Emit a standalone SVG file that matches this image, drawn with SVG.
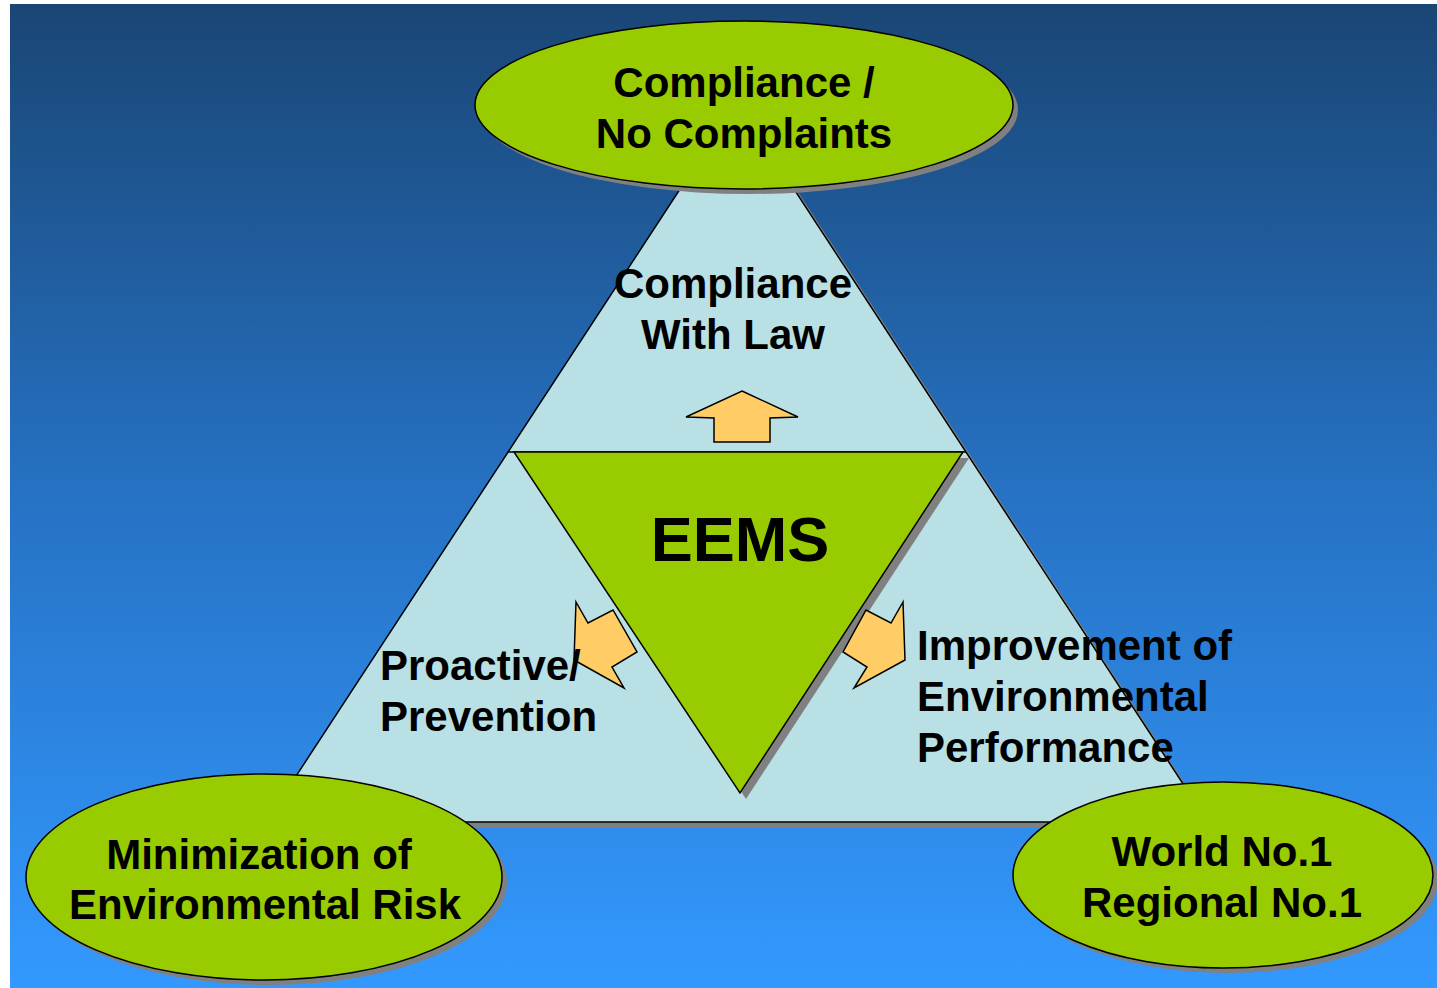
<svg xmlns="http://www.w3.org/2000/svg" width="1437" height="988" viewBox="0 0 1437 988">
<defs>
<linearGradient id="bg" x1="0" y1="0" x2="0" y2="1">
<stop offset="0" stop-color="#1a4675"/>
<stop offset="0.5" stop-color="#2672c4"/>
<stop offset="1" stop-color="#3399ff"/>
</linearGradient>
<style>
.sh{fill:#808080;}
.ell{fill:#99cc00;stroke:#000;stroke-width:1.5;}
.tri{fill:#b9e0e4;stroke:#000;stroke-width:1.5;}
.gtri{fill:#99cc00;stroke:#000;stroke-width:1.5;}
.arr{fill:#ffcc66;stroke:#000;stroke-width:1.5;stroke-linejoin:miter;}
text{font-family:"Liberation Sans",Arial,sans-serif;font-weight:bold;font-size:42px;fill:#000;}
.c{text-anchor:middle;}
</style>
</defs>
<rect x="0" y="0" width="1437" height="988" fill="#fff"/>
<rect x="10" y="4" width="1427" height="984" fill="url(#bg)"/>
<g id="triangle">
<polygon class="sh" points="743,108 272,828 1214,828"/>
<polygon class="tri" points="737,102 266,822 1208,822"/>
<line x1="508" y1="452" x2="966" y2="452" stroke="#000" stroke-width="1.5"/>
<text class="c" x="733" y="298">Compliance</text>
<text class="c" x="733" y="349">With Law</text>
</g>
<g id="eems">
<polygon class="sh" points="520,458 969,458 746,799"/>
<polygon class="gtri" points="514,452 963,452 740,793"/>
<text class="c" x="740" y="561" style="font-size:63px">EEMS</text>
</g>
<g id="connectors">
<polygon class="arr" points="742,391 798,417 770,418 770,442 714,442 714,418 686,417"/>
<polygon class="arr" points="576,602 588,623 613,610 637,652 612,667 624,688 574,660"/>
<polygon class="arr" points="903,602 891,623 866,610 843,652 867,667 854,688 905,660"/>
</g>
<g id="labels">
<text x="380" y="680">Proactive/</text>
<text x="380" y="731">Prevention</text>
<text x="917" y="660">Improvement of</text>
<text x="917" y="711">Environmental</text>
<text x="917" y="762">Performance</text>
</g>
<g id="top">
<ellipse class="sh" cx="749" cy="110" rx="269" ry="84"/>
<ellipse class="ell" cx="744" cy="105" rx="269" ry="84"/>
<text class="c" x="744" y="97">Compliance /</text>
<text class="c" x="744" y="148">No Complaints</text>
</g>
<g id="bottom-left">
<ellipse class="sh" cx="269" cy="882" rx="238" ry="103"/>
<ellipse class="ell" cx="264" cy="877" rx="238" ry="103"/>
<text class="c" x="259" y="869">Minimization of</text>
<text class="c" x="265" y="919">Environmental Risk</text>
</g>
<g id="bottom-right">
<ellipse class="sh" cx="1228" cy="880" rx="210" ry="93"/>
<ellipse class="ell" cx="1223" cy="875" rx="210" ry="93"/>
<text class="c" x="1222" y="866">World No.1</text>
<text class="c" x="1222" y="917">Regional No.1</text>
</g>
</svg>
